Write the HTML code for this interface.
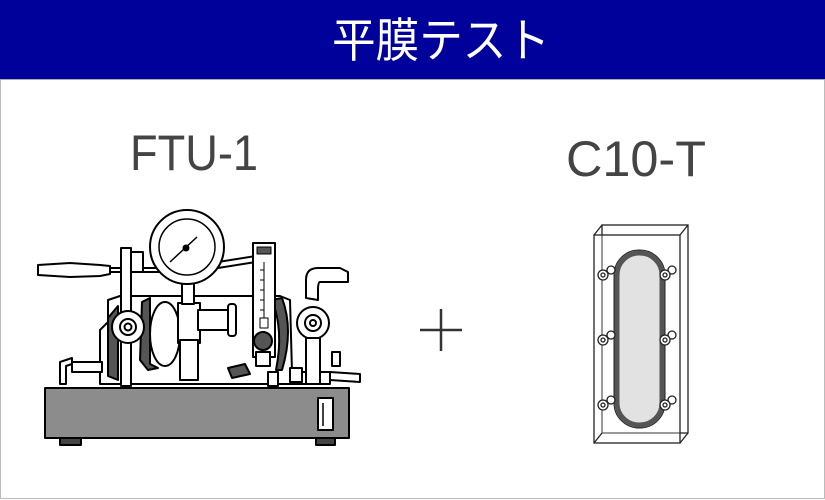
<!DOCTYPE html>
<html><head><meta charset="utf-8"><style>
html,body{margin:0;padding:0;background:#fff;}
svg{display:block;}
</style></head><body>
<svg width="825" height="500" viewBox="0 0 825 500" xmlns="http://www.w3.org/2000/svg">
<rect x="0.5" y="0.5" width="824" height="498" fill="#fff" stroke="#bbb"/>
<rect x="0" y="0" width="825" height="79" fill="#00009a"/>
<line x1="0" y1="79.5" x2="825" y2="79.5" stroke="#aaa"/>
<text x="441" y="57" font-family="Liberation Sans, Noto Sans CJK JP, sans-serif" font-size="47" fill="#fff" text-anchor="middle" textLength="218" lengthAdjust="spacingAndGlyphs">平膜テスト</text>
<text x="130" y="170" font-family="Liberation Sans, sans-serif" font-size="50" fill="#444" textLength="128" lengthAdjust="spacingAndGlyphs">FTU-1</text>
<text x="566" y="176" font-family="Liberation Sans, sans-serif" font-size="50" fill="#444" textLength="140" lengthAdjust="spacingAndGlyphs">C10-T</text>
<!-- plus -->
<line x1="420" y1="330" x2="462" y2="330" stroke="#333" stroke-width="2.5"/>
<line x1="441" y1="309" x2="441" y2="351" stroke="#333" stroke-width="2.5"/>

<g stroke="#000" stroke-width="2" stroke-linejoin="round">
<rect x="60" y="436" width="21" height="9" fill="#444"/>
<rect x="316" y="436" width="19" height="9" fill="#444"/>
<rect x="45" y="388" width="304" height="50" fill="#8c8c8c"/>
<rect x="318" y="398" width="15" height="32" fill="#fff"/>
<line x1="323" y1="403" x2="323" y2="426" stroke-width="1.5"/>
<path d="M100 384 L100 330 L108 322 L108 300 L120 296 L280 296 L290 300 L292 372 L330 372 L330 384 Z" fill="#fff"/>
<path d="M108 318 L118 306 L118 380 L108 376 Z" fill="#555"/>
<path d="M142 302 L150 298 L150 364 L158 368 L148 370 L140 360 Z" fill="#555"/>
<path d="M272 300 Q284 330 276 370 L282 370 Q294 330 282 298 Z" fill="#555"/>
<path d="M228 368 L245 364 L250 374 L232 378 Z" fill="#555"/>
<ellipse cx="165" cy="334" rx="15" ry="32" fill="#fff"/>
<rect x="178" y="303" width="22" height="40" fill="#fff"/>
<rect x="180" y="340" width="18" height="40" fill="#fff"/>
<rect x="198" y="310" width="32" height="20" fill="#fff"/>
<rect x="228" y="304" width="8" height="32" rx="3" fill="#fff"/>
<path d="M38 265 L70 263 L100 265 L110 266 L110 274 L100 276 L70 277 L38 275 Z" fill="#fff"/>
<line x1="110" y1="268" x2="160" y2="268"/>
<line x1="110" y1="272" x2="160" y2="272"/>
<rect x="121" y="248" width="10" height="138" fill="#fff"/>
<rect x="131" y="252" width="12" height="20" fill="#fff"/>
<circle cx="128" cy="327" r="16" fill="#fff"/>
<circle cx="128" cy="327" r="8" fill="#fff"/>
<circle cx="128" cy="327" r="3.5" fill="#fff"/>
<path d="M60 384 L60 362 L72 358 L72 364 L66 366 L66 384 Z" fill="#fff"/>
<rect x="72" y="362" width="30" height="10" fill="#fff"/>
<path d="M218 262 L256 256 L256 262 L218 268 Z" fill="#fff"/>
<rect x="182" y="282" width="12" height="22" fill="#fff"/>
<circle cx="187" cy="247" r="37" fill="#fff"/>
<circle cx="187" cy="247" r="28" fill="#fff" stroke-width="1.5"/>
<line x1="170" y1="262" x2="197" y2="237" stroke-width="1.5"/>
<circle cx="186" cy="248" r="2.5" fill="#000"/>
<rect x="253" y="243" width="22" height="114" fill="#fff"/>
<rect x="257" y="247" width="14" height="7" fill="#555" stroke-width="1"/>
<line x1="264" y1="262" x2="264" y2="320" stroke-width="1"/>
<g stroke-width="1"><line x1="260" y1="270" x2="264" y2="270"/><line x1="260" y1="280" x2="264" y2="280"/><line x1="260" y1="290" x2="264" y2="290"/><line x1="260" y1="300" x2="264" y2="300"/><line x1="260" y1="310" x2="264" y2="310"/></g>
<rect x="260" y="318" width="8" height="10" fill="#fff" stroke-width="1"/>
<circle cx="263" cy="341" r="9" fill="#555"/>
<rect x="256" y="352" width="14" height="14" fill="#fff"/>
<rect x="268" y="372" width="10" height="14" fill="#fff"/>
<rect x="290" y="368" width="12" height="14" fill="#fff"/>
<path d="M306 298 L306 280 Q306 268 318 268 L340 268 L348 272 L348 282 L340 282 L320 282 Q318 282 318 290 L318 300 Z" fill="#fff"/>
<circle cx="313" cy="323" r="16" fill="#fff"/>
<circle cx="313" cy="323" r="8" fill="#fff"/>
<circle cx="313" cy="323" r="3" fill="#fff"/>
<rect x="306" y="338" width="14" height="46" fill="#fff"/>
<rect x="332" y="352" width="8" height="14" fill="#fff"/>
<path d="M330 372 L360 374 L360 382 L330 380 Z" fill="#fff"/>
</g>

<g stroke="#222" stroke-width="1.3" fill="none">
<rect x="602" y="225" width="86" height="208"/>
<rect x="594" y="235" width="86" height="208" fill="rgba(255,255,255,0.3)"/>
<line x1="594" y1="235" x2="602" y2="225"/>
<line x1="680" y1="235" x2="688" y2="225"/>
<line x1="680" y1="443" x2="688" y2="433"/>
<line x1="594" y1="443" x2="602" y2="433"/>
</g>
<rect x="617" y="253" width="45" height="172" rx="22" fill="#e2e2e2" stroke="#555" stroke-width="5"/>
<rect x="614" y="250" width="51" height="178" rx="25" fill="none" stroke="#222" stroke-width="1"/>
<g fill="#fff" stroke="#222" stroke-width="1.3">
<circle cx="611" cy="270" r="4"/><circle cx="603" cy="275" r="5"/><circle cx="603" cy="275" r="2"/>
<circle cx="611" cy="335" r="4"/><circle cx="603" cy="340" r="5"/><circle cx="603" cy="340" r="2"/>
<circle cx="611" cy="400" r="4"/><circle cx="603" cy="405" r="5"/><circle cx="603" cy="405" r="2"/>
<circle cx="672" cy="270" r="4"/><circle cx="665" cy="275" r="5"/><circle cx="665" cy="275" r="2"/>
<circle cx="672" cy="335" r="4"/><circle cx="665" cy="340" r="5"/><circle cx="665" cy="340" r="2"/>
<circle cx="672" cy="400" r="4"/><circle cx="665" cy="405" r="5"/><circle cx="665" cy="405" r="2"/>
</g>
</svg>
</body></html>
